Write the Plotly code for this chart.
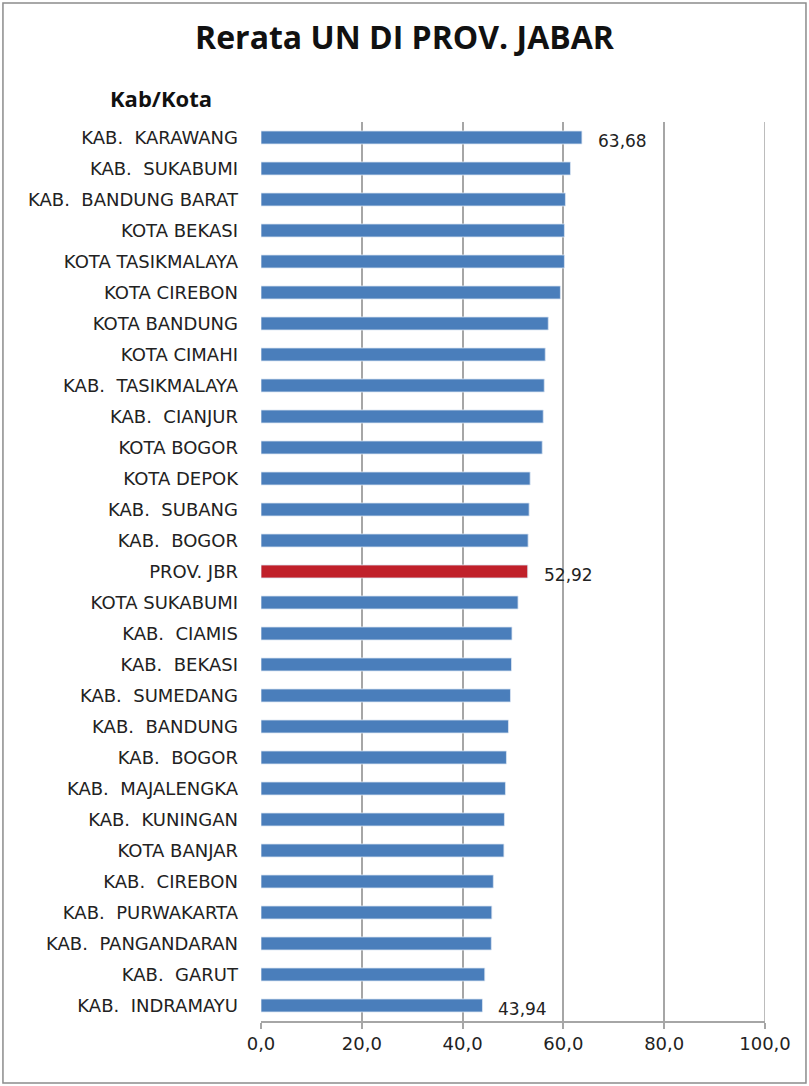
import plotly.graph_objects as go

categories = [
    "KAB.  KARAWANG", "KAB.  SUKABUMI", "KAB.  BANDUNG BARAT", "KOTA BEKASI",
    "KOTA TASIKMALAYA", "KOTA CIREBON", "KOTA BANDUNG", "KOTA CIMAHI",
    "KAB.  TASIKMALAYA", "KAB.  CIANJUR", "KOTA BOGOR", "KOTA DEPOK",
    "KAB.  SUBANG", "KAB.  BOGOR", "PROV. JBR", "KOTA SUKABUMI",
    "KAB.  CIAMIS", "KAB.  BEKASI", "KAB.  SUMEDANG", "KAB.  BANDUNG",
    "KAB.  BOGOR", "KAB.  MAJALENGKA", "KAB.  KUNINGAN", "KOTA BANJAR",
    "KAB.  CIREBON", "KAB.  PURWAKARTA", "KAB.  PANGANDARAN", "KAB.  GARUT",
    "KAB.  INDRAMAYU",
]
values = [
    63.68, 61.4, 60.4, 60.2,
    60.2, 59.4, 57.0, 56.4,
    56.2, 56.0, 55.8, 53.4,
    53.2, 53.0, 52.92, 51.0,
    49.8, 49.7, 49.5, 49.1,
    48.7, 48.5, 48.3, 48.2,
    46.1, 45.8, 45.7, 44.4,
    43.94,
]
highlight = "PROV. JBR"
labeled = [0, 14, 28]
x_ticks = [0, 20, 40, 60, 80, 100]

BLUE = "#4A7EBB"
RED = "#C0202A"
GRID = "#A6A6A6"

positions = list(range(len(categories)))
colors = [RED if c == highlight else BLUE for c in categories]

fig = go.Figure()
fig.add_trace(go.Bar(
    x=values, y=positions, orientation="h",
    marker=dict(color=colors, line=dict(color="#DCE6F2", width=0.8)),
    width=0.42, hoverinfo="x+text", hovertext=categories,
))

annotations = []
for i in labeled:
    annotations.append(dict(
        x=values[i], y=positions[i], xref="x", yref="y",
        text=f"{values[i]:.2f}".replace(".", ","),
        showarrow=False, xanchor="left", xshift=14, yshift=-3,
        font=dict(family="DejaVu Sans", size=17, color="#222222"),
    ))
annotations.append(dict(
    x=-0.3036, y=1.0267, xref="paper", yref="paper", xanchor="left",
    yanchor="middle",
    text="<b>Kab/Kota</b>", showarrow=False,
    font=dict(family="Open Sans", size=22, color="#111111"),
))

fig.update_layout(
    width=809, height=1086,
    margin=dict(l=261, r=44, t=122, b=65),
    paper_bgcolor="white", plot_bgcolor="white",
    separators=",.",
    showlegend=False,
    bargap=0.58,
    title=dict(
        text="<b>Rerata UN DI PROV. JABAR</b>",
        x=0.5, xref="container", xanchor="center",
        y=1 - 38 / 1086, yanchor="middle",
        font=dict(family="Open Sans", size=32, color="#111111"),
    ),
    annotations=annotations,
    shapes=[
        dict(
            type="rect", xref="paper", yref="paper",
            x0=-0.512, x1=1.0813, y0=-0.069, y1=1.1324,
            line=dict(color="#8C8C8C", width=1.5), fillcolor="rgba(0,0,0,0)",
            layer="below",
        ),
        dict(
            type="line", xref="x", yref="paper",
            x0=x_ticks[-1], x1=x_ticks[-1], y0=0, y1=1,
            line=dict(color=GRID, width=1.5), layer="below",
        ),
    ],
)
fig.update_xaxes(
    range=[0, 100], tickvals=x_ticks, tickformat=".1f",
    showgrid=True, gridcolor=GRID, gridwidth=1.5,
    showline=True, linecolor=GRID, linewidth=1.5,
    ticks="outside", ticklen=6, tickcolor=GRID, tickwidth=1.5,
    tickfont=dict(family="DejaVu Sans", size=18, color="#222222"),
    zeroline=False, fixedrange=True,
)
fig.update_yaxes(
    tickvals=positions, ticktext=categories,
    range=[len(categories) - 0.5, -0.5],
    showgrid=False, zeroline=False, showline=False,
    ticks="", ticklabelstandoff=22,
    tickfont=dict(family="DejaVu Sans", size=18, color="#222222"),
    fixedrange=True,
)

fig.write_html(
    "out.html",
    config={"displayModeBar": False},
    post_script="document.body.style.margin='0px';",
)
